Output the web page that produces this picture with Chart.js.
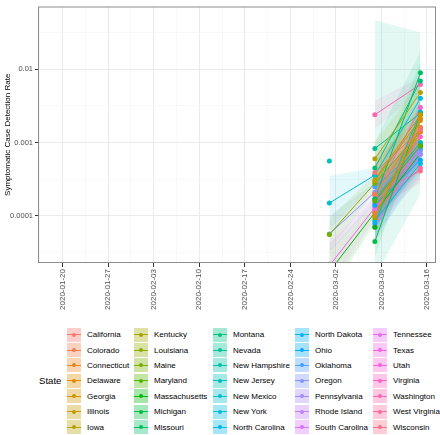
<!DOCTYPE html>
<html>
<head>
<meta charset="utf-8">
<script src="https://cdn.jsdelivr.net/npm/chart.js"></script>
<style>
  body { margin: 0; background: #fff; font-family: "Liberation Sans", Arial, sans-serif; }
  #wrap { position: relative; width: 440px; height: 435px; }
  #plot { position: absolute; left: 0; top: 0; }
  #legendTitle { position: absolute; left: 39px; top: 375px; font-size: 9.6px; color: #000; }
  #legend {
    position: absolute; left: 67px; top: 327px;
    display: grid; grid-auto-flow: column;
    grid-template-columns: 67px 79px 82px 78px 70px;
    grid-template-rows: repeat(7, 15.4px);
  }
  .cell { display: flex; align-items: center; font-size: 8px; color: #000; white-space: nowrap; }
  .key { position: relative; width: 14px; height: 14px; margin-right: 6px; flex: none; }
  .key .ln { position: absolute; left: 0; right: 0; top: 6.5px; height: 1px; }
  .key .dot { position: absolute; left: 5px; top: 5px; width: 4px; height: 4px; border-radius: 50%; }
</style>
</head>
<body>
<div id="wrap">
  <canvas id="plot" width="440" height="320"></canvas>
  <div id="legendTitle">State</div>
  <div id="legend"></div>
</div>
<script>
// States and observed detection rates (null = no observation)
const states = ['California', 'Colorado', 'Connecticut', 'Delaware', 'Georgia', 'Illinois', 'Iowa',
  'Kentucky', 'Louisiana', 'Maine', 'Maryland', 'Massachusetts', 'Michigan', 'Missouri',
  'Montana', 'Nevada', 'New Hampshire', 'New Jersey', 'New Mexico', 'New York', 'North Carolina',
  'North Dakota', 'Ohio', 'Oklahoma', 'Oregon', 'Pennsylvania', 'Rhode Island', 'South Carolina',
  'Tennessee', 'Texas', 'Utah', 'Virginia', 'Washington', 'West Virginia', 'Wisconsin'];

const obsDates = ['2020-03-01', '2020-03-08', '2020-03-15'];

const rate0301 = [null, null, null, null, null, null, null,
  null, null, 0.000056, null, 0.000022, null, null,
  null, null, null, 0.00056, 0.00015, null, null,
  null, null, null, 0.000057, null, null, null,
  null, 0.000021, null, null, null, null, null];

const rate0308 = [0.00039, 0.0002, 0.00011, null, 0.0001, 0.00031, 0.0006,
  0.0003, 0.000095, 0.00028, 0.00016, 0.00007, 0.000045, 0.00017,
  0.00045, 0.00083, 0.00017, null, 0.00036, 0.00036, 0.000086,
  0.00008, 0.00014, 0.00025, 0.00021, 0.00007, 0.00011, 0.000075,
  0.00012, 0.00013, 0.00019, 0.00015, 0.0024, 0.00012, 0.0002];

const rate0315 = [0.0015, 0.0016, 0.0014, 0.0021, 0.002, 0.0024, 0.0048,
  0.0021, 0.0016, 0.0014, 0.0009, 0.0009, 0.0024, 0.0089,
  0.0069, 0.0025, 0.001, null, null, 0.004, 0.00052,
  0.0026, 0.00058, 0.00085, 0.00078, 0.00069, 0.0007, 0.0009,
  0.00095, 0.0008, 0.003, 0.0012, 0.0062, 0.00045, 0.00041];

// 95% band half-width (log10 decades) at first and last observed date
const ciFirst = [0.22, 0.22, 0.22, 0, 0.22, 0.22, 0.22,
  0.22, 0.22, 0.22, 0.22, 0.3, 0.22, 0.22,
  0.35, 1.75, 0.22, 0, 0.37, 0.22, 0.22,
  0.22, 0.22, 0.22, 0.25, 0.22, 0.22, 0.22,
  0.22, 0.3, 0.22, 0.22, 0.19, 0.22, 0.22];
const ciLast = [0.16, 0.16, 0.16, 0, 0.16, 0.16, 0.16,
  0.16, 0.16, 0.16, 0.16, 0.2, 0.16, 0.16,
  0.4, 1.1, 0.16, 0, 0.1, 0.16, 0.16,
  0.16, 0.16, 0.16, 0.18, 0.16, 0.16, 0.16,
  0.16, 0.2, 0.16, 0.16, 0.1, 0.16, 0.16];

// Axis ticks
const xTickDates = ['2020-01-20', '2020-01-27', '2020-02-03', '2020-02-10', '2020-02-17',
  '2020-02-24', '2020-03-02', '2020-03-09', '2020-03-16'];
const yMajor = [0.0001, 0.001, 0.01];
const yMinor = [0.0000316, 0.000316, 0.00316, 0.0316];
const yLabels = ['0.0001', '0.001', '0.01'];

const fontFamily = '"Liberation Sans", Arial, sans-serif';

function dayNum(s) {
  const [y, m, d] = s.split('-').map(Number);
  return (Date.UTC(y, m - 1, d) - Date.UTC(2020, 0, 1)) / 864e5;
}

// ggplot-style hue palette (hcl, c = 100, l = 65)
function hueRGB(h) {
  const L = 65, C = 100;
  const hr = h * Math.PI / 180;
  const U = C * Math.cos(hr), V = C * Math.sin(hr);
  const Y = Math.pow((L + 16) / 116, 3);
  const Xn = 0.95047, Yn = 1.0, Zn = 1.08883;
  const den = Xn + 15 * Yn + 3 * Zn;
  const u = U / (13 * L) + 4 * Xn / den;
  const v = V / (13 * L) + 9 * Yn / den;
  const X = 9 * Y * u / (4 * v);
  const Z = Y * (12 - 3 * u - 20 * v) / (4 * v);
  const lin = [
    3.240479 * X - 1.537150 * Y - 0.498535 * Z,
    -0.969256 * X + 1.875992 * Y + 0.041556 * Z,
    0.055648 * X - 0.204043 * Y + 1.057311 * Z
  ];
  return lin.map(c => {
    const g = c <= 0.0031308 ? 12.92 * c : 1.055 * Math.pow(c, 1 / 2.4) - 0.055;
    return Math.round(Math.min(1, Math.max(0, g)) * 255);
  });
}
const rgb = states.map((s, i) => hueRGB(15 + i * 360 / states.length));
const col = (i, a) => a === undefined ? `rgb(${rgb[i].join(',')})` : `rgba(${rgb[i].join(',')},${a})`;

// Build datasets: ribbon (upper/lower), fit line, points
const days = obsDates.map(dayNum);
const datasets = [];
states.forEach((name, i) => {
  const vals = [rate0301[i], rate0308[i], rate0315[i]];
  const obs = [];
  vals.forEach((v, k) => { if (v != null) obs.push({ x: days[k], y: v }); });

  if (obs.length >= 2) {
    const n = obs.length;
    const xs = obs.map(p => p.x), ys = obs.map(p => Math.log10(p.y));
    const xbar = xs.reduce((a, b) => a + b, 0) / n;
    const ybar = ys.reduce((a, b) => a + b, 0) / n;
    let sxy = 0, sxx = 0;
    xs.forEach((x, k) => { sxy += (x - xbar) * (ys[k] - ybar); sxx += (x - xbar) * (x - xbar); });
    const b = sxy / sxx;
    const fit = x => ybar + b * (x - xbar);
    const w = xs.map((x, k) => k === 0 ? ciFirst[i] : k === n - 1 ? ciLast[i] : 0.3 * (ciFirst[i] + ciLast[i]));

    if (ciFirst[i] > 0) {
      datasets.push({
        type: 'line', data: xs.map((x, k) => ({ x, y: Math.pow(10, fit(x) + w[k]) })),
        borderWidth: 0, pointRadius: 0, fill: '+1', backgroundColor: col(i, 0.11), order: 3
      });
      datasets.push({
        type: 'line', data: xs.map((x, k) => ({ x, y: Math.pow(10, fit(x) - w[k]) })),
        borderWidth: 0, pointRadius: 0, fill: false, order: 3
      });
    }
    datasets.push({
      type: 'line', data: xs.map(x => ({ x, y: Math.pow(10, fit(x)) })),
      borderColor: col(i), borderWidth: 1, pointRadius: 0, fill: false, order: 2
    });
  }

  datasets.push({
    type: 'scatter', data: obs, backgroundColor: col(i), borderWidth: 0,
    pointRadius: 2.5, order: 1
  });
});

// Panel border like theme_bw
const panelBorder = {
  id: 'panelBorder',
  afterDraw(chart) {
    const { ctx, chartArea: a } = chart;
    ctx.save();
    ctx.strokeStyle = '#8c8c8c';
    ctx.lineWidth = 1;
    ctx.strokeRect(a.left + 0.5, a.top + 0.5, a.right - a.left - 1, a.bottom - a.top - 1);
    ctx.restore();
  }
};

const xMajor = xTickDates.map(dayNum);
const xTicks = [];
xMajor.forEach((d, k) => { xTicks.push(d); if (k < xMajor.length - 1) xTicks.push(d + 3.5); });
xTicks.unshift(xMajor[0] - 3.5);
const isXMajor = v => xMajor.includes(v);
const isYMajor = v => yMajor.some(m => Math.abs(m - v) / m < 1e-6);

new Chart(document.getElementById('plot'), {
  data: { datasets },
  options: {
    responsive: false,
    animation: false,
    events: [],
    layout: { padding: { top: 1, right: 3, left: 0, bottom: 0 } },
    plugins: { legend: { display: false }, tooltip: { enabled: false } },
    scales: {
      x: {
        type: 'linear',
        min: dayNum('2020-01-16') + 0.2,
        max: dayNum('2020-03-17') + 0.4,
        afterBuildTicks: s => { s.ticks = xTicks.map(v => ({ value: v })); },
        afterFit: s => { s.height = 57; },
        border: { display: false },
        grid: {
          color: ctx => ctx.tick && isXMajor(ctx.tick.value) ? '#EBEBEB' : '#F3F3F3',
          lineWidth: ctx => ctx.tick && isXMajor(ctx.tick.value) ? 1 : 0.6,
          tickColor: ctx => ctx.tick && isXMajor(ctx.tick.value) ? '#333333' : 'rgba(0,0,0,0)',
          tickLength: 4,
          tickWidth: 1
        },
        ticks: {
          autoSkip: false,
          minRotation: 90,
          maxRotation: 90,
          padding: 2,
          color: '#4D4D4D',
          font: { size: 8, family: fontFamily },
          callback: v => {
            const k = xMajor.indexOf(v);
            return k >= 0 ? xTickDates[k] : '';
          }
        }
      },
      y: {
        type: 'logarithmic',
        min: 0.0000229,
        max: 0.0713,
        afterBuildTicks: s => { s.ticks = yMinor.concat(yMajor).sort((a, b) => a - b).map(v => ({ value: v })); },
        afterFit: s => { s.width = 38; },
        border: { display: false },
        title: {
          display: true,
          text: 'Symptomatic Case Detection Rate',
          color: '#000',
          font: { size: 8, family: fontFamily },
          padding: { top: 3, bottom: 0 }
        },
        grid: {
          color: ctx => ctx.tick && isYMajor(ctx.tick.value) ? '#EBEBEB' : '#F3F3F3',
          lineWidth: ctx => ctx.tick && isYMajor(ctx.tick.value) ? 1 : 0.6,
          tickColor: ctx => ctx.tick && isYMajor(ctx.tick.value) ? '#333333' : 'rgba(0,0,0,0)',
          tickLength: 3,
          tickWidth: 1
        },
        ticks: {
          autoSkip: false,
          padding: 2,
          color: '#4D4D4D',
          font: { size: 7.5, family: fontFamily },
          callback: v => {
            const k = yMajor.findIndex(m => Math.abs(m - v) / m < 1e-6);
            return k >= 0 ? yLabels[k] : '';
          }
        }
      }
    }
  },
  plugins: [panelBorder]
});

// Legend: 5 columns x 7 rows, filled column by column
const legend = document.getElementById('legend');
states.forEach((name, i) => {
  const cell = document.createElement('div');
  cell.className = 'cell';
  cell.innerHTML = `<span class="key" style="background:${col(i, 0.35)}">` +
    `<i class="ln" style="background:${col(i)}"></i><i class="dot" style="background:${col(i)}"></i></span>` +
    `<span>${name}</span>`;
  legend.appendChild(cell);
});
</script>
</body>
</html>
